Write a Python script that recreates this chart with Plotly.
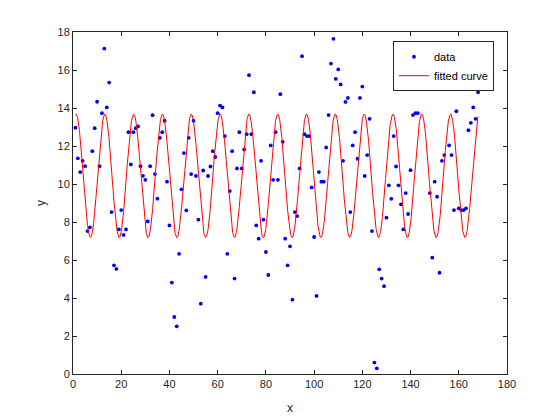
import plotly.graph_objects as go
import numpy as np

# ---- data ----
x_data = list(range(1, 169))
y_data = [
    12.96, 11.35, 10.63, 11.22, 10.94, 7.52, 7.72, 11.73, 12.94, 14.33,
    10.94, 13.73, 17.13, 14.03, 15.34, 8.52, 5.72, 5.53, 7.61, 8.63,
    7.32, 7.61, 12.73, 11.03, 12.73, 12.94, 13.03, 10.94, 10.43, 10.22,
    8.03, 10.94, 13.62, 10.52, 9.23, 12.43, 12.73, 13.33, 10.12, 7.82,
    4.81, 3.00, 2.51, 6.32, 9.72, 11.63, 8.61, 12.43, 10.52, 13.33,
    10.42, 8.12, 3.70, 10.71, 5.11, 10.42, 10.92, 11.73, 11.42, 13.73,
    14.13, 14.03, 12.52, 6.32, 9.63, 11.73, 5.02, 10.82, 12.73, 10.82,
    11.82, 12.62, 15.73, 12.62, 14.83, 7.82, 7.12, 11.22, 8.12, 6.42,
    5.21, 12.03, 10.22, 12.73, 10.22, 14.73, 12.22, 7.12, 5.72, 6.72,
    3.91, 8.52, 8.31, 10.82, 16.73, 12.62, 12.52, 12.52, 9.82, 7.21,
    4.11, 10.63, 10.12, 10.12, 11.92, 13.63, 16.34, 17.64, 15.53, 16.03,
    15.24, 11.22, 14.32, 14.53, 8.52, 12.03, 12.73, 11.33, 14.53, 15.13,
    10.42, 11.52, 13.43, 7.52, 0.60, 0.30, 5.51, 5.02, 4.62, 8.23,
    9.93, 9.22, 12.52, 10.92, 9.93, 8.93, 7.61, 9.52, 8.42, 10.73,
    13.63, 13.73, 13.73, 16.6, 16.9, 16.3, 15.43, 9.52, 6.12, 10.12,
    9.33, 5.33, 11.22, 11.52, 15.64, 12.03, 11.52, 8.63, 13.83, 8.72,
    8.63, 8.63, 8.72, 12.83, 13.22, 14.03, 13.43, 14.83,
]

# fitted sinusoid parameters: y = offset + amp * cos(2*pi*(x - x_peak)/period)
fit_offset = 10.43
fit_amp = 3.25
fit_period = 11.95
fit_peak = 1.25

x_fit = np.linspace(1, 168, 3000)
y_fit = fit_offset + fit_amp * np.cos(2 * np.pi * (x_fit - fit_peak) / fit_period)

x_ticks = list(range(0, 181, 20))
y_ticks = list(range(0, 19, 2))

FONT = "Liberation Sans, Arial, Helvetica, sans-serif"
AX = "#262626"

fig = go.Figure()
fig.add_trace(go.Scatter(x=x_data, y=y_data, mode="markers", name="data",
                         marker=dict(color="#0000ff", size=3.8, line=dict(width=0))))
fig.add_trace(go.Scatter(x=x_fit, y=y_fit, mode="lines", name="fitted curve",
                         line=dict(color="#ff0000", width=1)))

axis_common = dict(
    showgrid=False, zeroline=False, showline=True, linecolor=AX, linewidth=1,
    mirror="ticks", ticks="inside", ticklen=4, tickcolor=AX, tickwidth=1,
    tickfont=dict(family=FONT, size=11, color=AX), automargin=False,
)
fig.update_xaxes(range=[0, 180], tickvals=x_ticks, title=dict(text="x", font=dict(family=FONT, size=12, color=AX), standoff=14), **axis_common)
fig.update_yaxes(range=[0, 18], tickvals=y_ticks, title=dict(text="y", font=dict(family=FONT, size=12, color=AX), standoff=9), **axis_common)

fig.update_layout(
    width=560, height=420,
    margin=dict(l=73, r=53, t=32, b=46),
    plot_bgcolor="white", paper_bgcolor="white",
    font=dict(family=FONT, size=11, color=AX),
    legend=dict(x=0.97, y=0.973, xanchor="right", yanchor="top",
                bgcolor="white", bordercolor=AX, borderwidth=1,
                font=dict(family=FONT, size=11, color="#000000"),
                tracegroupgap=0, itemwidth=30),
    showlegend=True,
)

fig.write_html("out.html")
